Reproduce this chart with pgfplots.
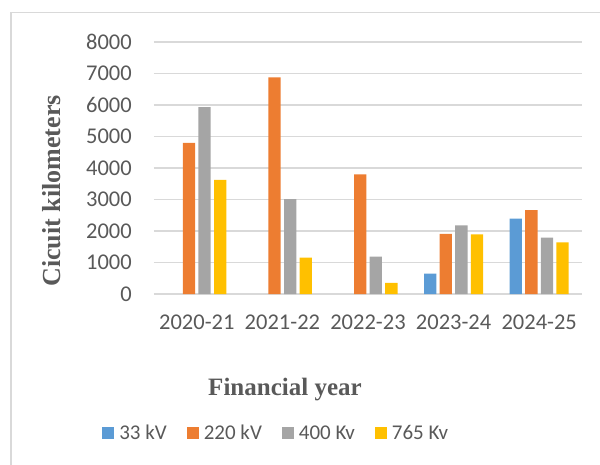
\documentclass[border=0pt]{standalone}
\usepackage{fontspec}
\setmainfont{Liberation Serif}
\newfontfamily\calibri{Carlito}
\usepackage{pgfplots}
\pgfplotsset{compat=1.18}
\definecolor{c33}{HTML}{5B9BD5}
\definecolor{c220}{HTML}{ED7D31}
\definecolor{c400}{HTML}{A5A5A5}
\definecolor{c765}{HTML}{FFC000}
\definecolor{txt}{HTML}{595959}
\definecolor{gridc}{HTML}{D9D9D9}
\begin{document}
\begin{tikzpicture}[x=1pt,y=1pt]
\path[use as bounding box] (-154,-170) rectangle (446,294);
\draw[gridc, line width=1.5pt] (-143,-171) -- (-143,281.3) -- (447,281.3);
\begin{axis}[
  at={(0,0)}, anchor=south west,
  scale only axis, width=428pt, height=252pt,
  ybar=3.3pt, bar width=12.3pt,
  xmin=-0.5, xmax=4.5, ymin=0, ymax=8000,
  xtick={0,1,2,3,4}, xticklabels={2020-21,2021-22,2022-23,2023-24,2024-25},
  ytick={0,1000,...,8000},
  axis line style={draw=none},
  major tick length=0pt,
  ymajorgrids, grid style={draw=gridc, line width=1.3pt},
  /pgf/number format/assume math mode=true,
  /pgf/number format/1000 sep={},
  tick label style={font=\calibri\fontsize{22.5}{27}\selectfont, text=txt, inner sep=0pt},
  yticklabel style={anchor=east, xshift=-22pt},
  xticklabel style={anchor=north, yshift=-21pt},
  ylabel={\textbf{Cicuit kilometers}},
  every axis y label/.style={at={(axis description cs:-0.2383,0.4087)}, rotate=90, anchor=center, inner sep=0pt, font=\fontsize{26}{30}\selectfont, text=txt},
  xlabel={\textbf{Financial year}},
  every axis x label/.style={at={(axis description cs:0.306,-0.381)}, anchor=center, inner sep=0pt, font=\fontsize{25}{30}\selectfont, text=txt},
  legend columns=4,
  legend image code/.code={\fill[#1] (0pt,-6pt) rectangle (12pt,6pt);},
  legend style={at={(axis description cs:0.283,-0.552)}, anchor=center, draw=none, fill=none,
    font=\calibri\fontsize{21}{25}\selectfont, text=txt,
    /tikz/every odd column/.append style={column sep=5pt},
    /tikz/every even column/.append style={column sep=20pt},
    nodes={inner sep=0pt},
    inner sep=0pt, row sep=0pt},
  legend cell align=left,
]
\addplot[fill=c33, draw=none] coordinates {(3,646) (4,2394)};
\addplot[fill=c220, draw=none] coordinates {(0,4800) (1,6875) (2,3800) (3,1907) (4,2659)};
\addplot[fill=c400, draw=none] coordinates {(0,5930) (1,3010) (2,1190) (3,2182) (4,1790)};
\addplot[fill=c765, draw=none] coordinates {(0,3620) (1,1155) (2,350) (3,1896) (4,1642)};
\legend{33 kV,220 kV,400 Kv,765 Kv}
\end{axis}
\end{tikzpicture}
\end{document}
